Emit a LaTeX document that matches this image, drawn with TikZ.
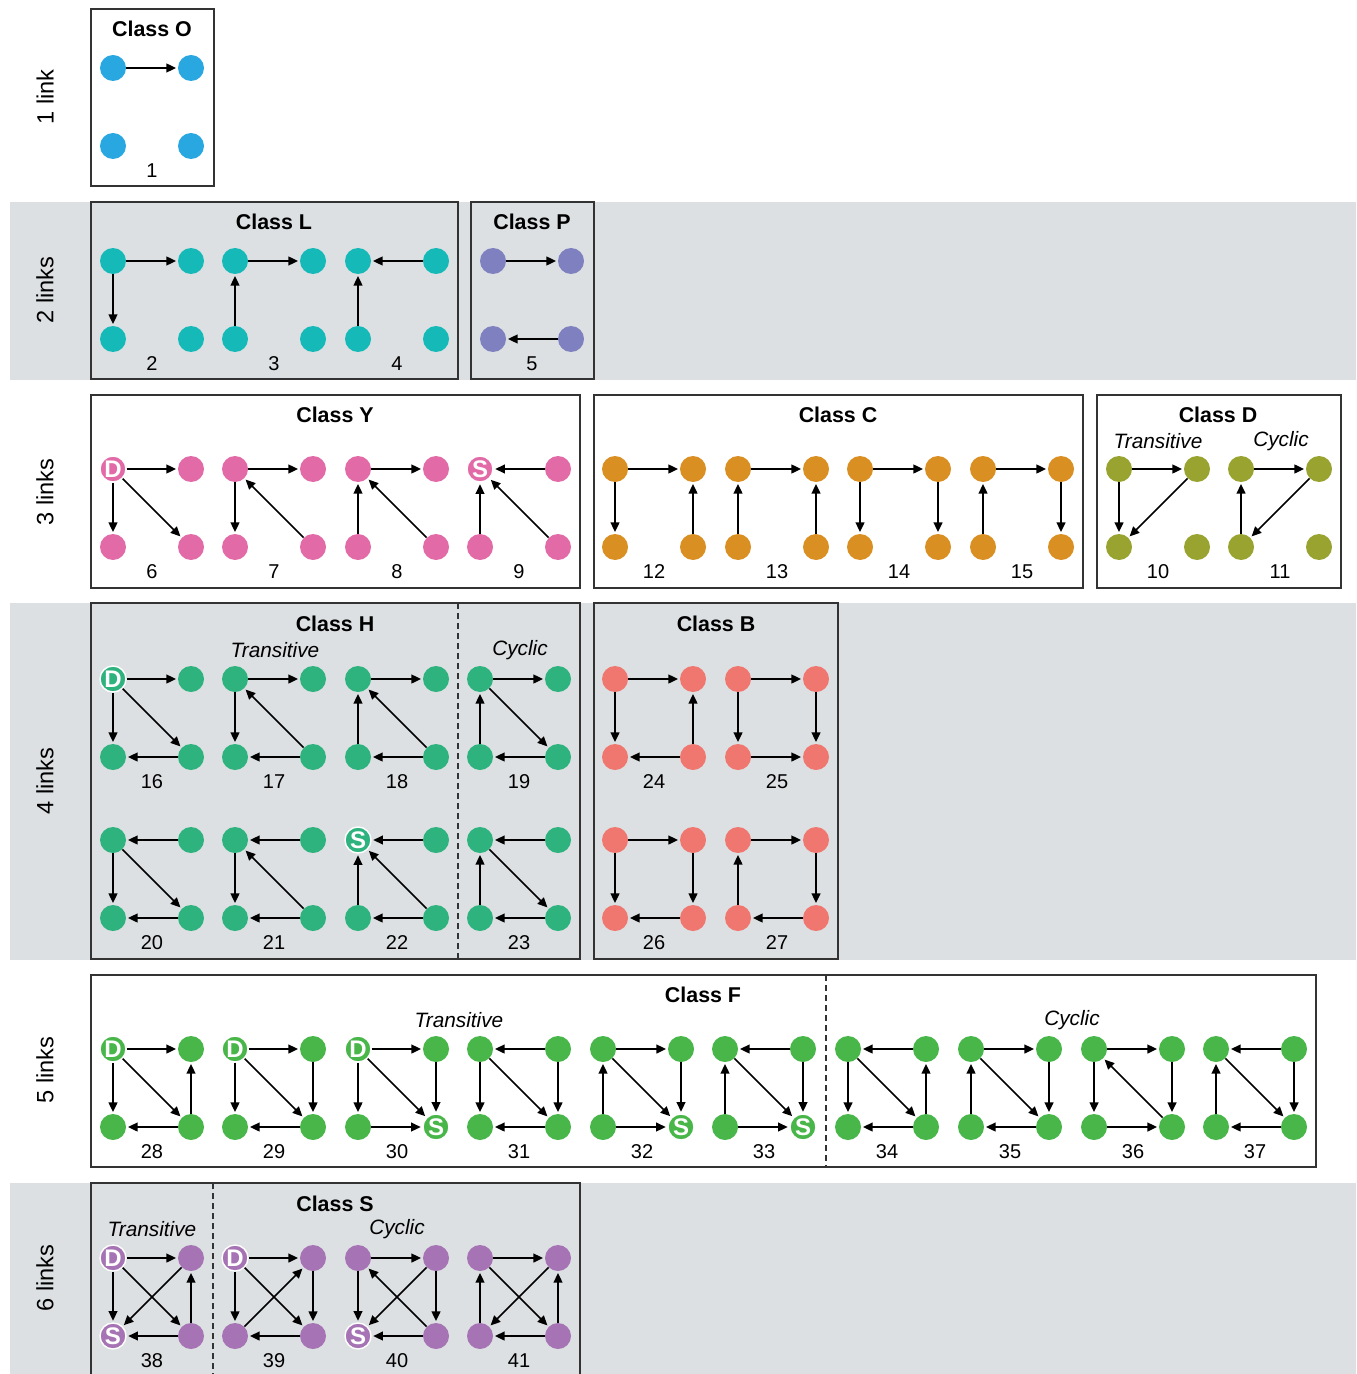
\documentclass[tikz,border=0pt]{standalone}
\usepackage{fontspec}
\setmainfont{Liberation Sans}
\usetikzlibrary{arrows.meta}
\definecolor{band}{HTML}{DCE0E2}
\definecolor{cO}{HTML}{29A7E1}
\definecolor{cL}{HTML}{14B9B8}
\definecolor{cP}{HTML}{7F80C0}
\definecolor{cY}{HTML}{E26BA7}
\definecolor{cC}{HTML}{D98F22}
\definecolor{cD}{HTML}{98A330}
\definecolor{cH}{HTML}{2EB37F}
\definecolor{cB}{HTML}{F0776F}
\definecolor{cF}{HTML}{48B649}
\definecolor{cS}{HTML}{A674B4}
\definecolor{frame}{HTML}{333333}
\tikzset{
 nd/.style={circle, minimum size=13pt, inner sep=0pt},
 sp/.style={draw=white, line width=0.7pt, text=white, font=\bfseries\fontsize{12}{12}\selectfont},
 arr/.style={-{Triangle[length=4.8pt,width=4.4pt]}, line width=0.85pt, shorten >=0.8pt},
 num/.style={font=\fontsize{10}{12}\selectfont},
 title/.style={font=\bfseries\fontsize{10.7}{12}\selectfont},
 sub/.style={font=\itshape\fontsize{10.4}{12}\selectfont},
 rowlab/.style={font=\fontsize{11.8}{13}\selectfont, rotate=90},
 box/.style={draw=frame, line width=0.75pt},
 sep/.style={draw=frame, line width=0.6pt, dash pattern=on 3pt off 2pt},
}
\newcommand{\vx}[5]{\if\relax\detokenize{#5}\relax\node[nd,fill=#4] (#1) at (#2,#3) {};\else\node[nd,sp,fill=#4] (#1) at (#2,#3) {#5};\fi}
\newcommand{\motif}[8]{%
 \vx{m#1a}{#2}{#3}{#4}{#6}
 \vx{m#1b}{#2+78}{#3}{#4}{}
 \vx{m#1c}{#2}{#3+78}{#4}{#7}
 \vx{m#1d}{#2+78}{#3+78}{#4}{#8}
 \node[num] (n#1) at (#2+39,#3+103) {#1};
 \foreach \p/\q in {#5} {\draw[arr] (m#1\p) -- (m#1\q);}
}
\begin{document}
\begin{tikzpicture}[x=0.5pt,y=-0.5pt]
\useasboundingbox (0,0) rectangle (1356,1374);
% bands
\fill[band] (10,202) rectangle (1356,380);
\fill[band] (10,603) rectangle (1356,960);
\fill[band] (10,1183) rectangle (1356,1380);
% row labels
\node[rowlab] (r1) at (45,97) {1 link};
\node[rowlab] (r2) at (45,290) {2 links};
\node[rowlab] (r3) at (45,492) {3 links};
\node[rowlab] (r4) at (45,781) {4 links};
\node[rowlab] (r5) at (45,1070) {5 links};
\node[rowlab] (r6) at (45,1278) {6 links};
% boxes
\draw[box] (91,9) rectangle (214,186);
\draw[box] (91,202) rectangle (458,379);
\draw[box] (471,202) rectangle (594,379);
\draw[box] (91,395) rectangle (580,588);
\draw[box] (594,395) rectangle (1083,588);
\draw[box] (1097,395) rectangle (1341,588);
\draw[box] (91,603) rectangle (580,959);
\draw[sep] (458,603) -- (458,959);
\draw[box] (594,603) rectangle (838,959);
\draw[box] (91,975) rectangle (1316,1167);
\draw[sep] (826,975) -- (826,1167);
\draw[box] (91,1390) -- (91,1183) -- (580,1183) -- (580,1390);
\draw[sep] (213,1183) -- (213,1390);
% titles
\node[title] (tO) at (152,29) {Class O};
\node[title] (tL) at (274,222) {Class L};
\node[title] (tP) at (532,222) {Class P};
\node[title] (tY) at (335,415) {Class Y};
\node[title] (tC) at (838,415) {Class C};
\node[title] (tD) at (1218,415) {Class D};
\node[title] (tH) at (335,624) {Class H};
\node[title] (tB) at (716,624) {Class B};
\node[title] (tF) at (703,995) {Class F};
\node[title] (tS) at (335,1204) {Class S};
\node[sub] (sD1) at (1158,441) {Transitive};
\node[sub] (sD2) at (1281,441) {Cyclic};
\node[sub] (sH1) at (275,650) {Transitive};
\node[sub] (sH2) at (520,650) {Cyclic};
\node[sub] (sF1) at (459,1020) {Transitive};
\node[sub] (sF2) at (1072,1020) {Cyclic};
\node[sub] (sS1) at (152,1229) {Transitive};
\node[sub] (sS2) at (397,1229) {Cyclic};
% motifs
\motif{1}{113}{68}{cO}{a/b}{}{}{}
\motif{2}{113}{261}{cL}{a/b,a/c}{}{}{}
\motif{3}{235}{261}{cL}{a/b,c/a}{}{}{}
\motif{4}{358}{261}{cL}{b/a,c/a}{}{}{}
\motif{5}{493}{261}{cP}{a/b,d/c}{}{}{}
\motif{6}{113}{469}{cY}{a/b,a/c,a/d}{D}{}{}
\motif{7}{235}{469}{cY}{a/b,a/c,d/a}{}{}{}
\motif{8}{358}{469}{cY}{a/b,c/a,d/a}{}{}{}
\motif{9}{480}{469}{cY}{b/a,c/a,d/a}{S}{}{}
\motif{12}{615}{469}{cC}{a/b,a/c,d/b}{}{}{}
\motif{13}{738}{469}{cC}{a/b,c/a,d/b}{}{}{}
\motif{14}{860}{469}{cC}{a/b,a/c,b/d}{}{}{}
\motif{15}{983}{469}{cC}{a/b,c/a,b/d}{}{}{}
\motif{10}{1119}{469}{cD}{a/b,a/c,b/c}{}{}{}
\motif{11}{1241}{469}{cD}{a/b,b/c,c/a}{}{}{}
\motif{16}{113}{679}{cH}{a/b,a/c,a/d,d/c}{D}{}{}
\motif{17}{235}{679}{cH}{a/b,a/c,d/a,d/c}{}{}{}
\motif{18}{358}{679}{cH}{a/b,c/a,d/a,d/c}{}{}{}
\motif{19}{480}{679}{cH}{a/b,c/a,a/d,d/c}{}{}{}
\motif{24}{615}{679}{cB}{a/b,a/c,d/b,d/c}{}{}{}
\motif{25}{738}{679}{cB}{a/b,a/c,b/d,c/d}{}{}{}
\motif{20}{113}{840}{cH}{b/a,a/c,a/d,d/c}{}{}{}
\motif{21}{235}{840}{cH}{b/a,a/c,d/a,d/c}{}{}{}
\motif{22}{358}{840}{cH}{b/a,c/a,d/a,d/c}{S}{}{}
\motif{23}{480}{840}{cH}{b/a,c/a,a/d,d/c}{}{}{}
\motif{26}{615}{840}{cB}{a/b,a/c,b/d,d/c}{}{}{}
\motif{27}{738}{840}{cB}{a/b,c/a,b/d,d/c}{}{}{}
\motif{28}{113}{1049}{cF}{a/b,a/c,a/d,d/b,d/c}{D}{}{}
\motif{29}{235}{1049}{cF}{a/b,a/c,a/d,b/d,d/c}{D}{}{}
\motif{30}{358}{1049}{cF}{a/b,a/c,a/d,b/d,c/d}{D}{}{S}
\motif{31}{480}{1049}{cF}{b/a,a/c,a/d,b/d,d/c}{}{}{}
\motif{32}{603}{1049}{cF}{a/b,c/a,a/d,b/d,c/d}{}{}{S}
\motif{33}{725}{1049}{cF}{b/a,c/a,a/d,b/d,c/d}{}{}{S}
\motif{34}{848}{1049}{cF}{b/a,a/c,a/d,d/b,d/c}{}{}{}
\motif{35}{971}{1049}{cF}{a/b,c/a,a/d,b/d,d/c}{}{}{}
\motif{36}{1094}{1049}{cF}{a/b,a/c,d/a,b/d,c/d}{}{}{}
\motif{37}{1216}{1049}{cF}{b/a,c/a,a/d,b/d,d/c}{}{}{}
\motif{38}{113}{1258}{cS}{a/b,a/c,a/d,b/c,d/b,d/c}{D}{S}{}
\motif{39}{235}{1258}{cS}{a/b,a/c,a/d,c/b,b/d,d/c}{D}{}{}
\motif{40}{358}{1258}{cS}{a/b,a/c,d/a,b/c,b/d,d/c}{}{S}{}
\motif{41}{480}{1258}{cS}{a/b,c/a,a/d,b/c,d/b,d/c}{}{}{}
\end{tikzpicture}
\end{document}
